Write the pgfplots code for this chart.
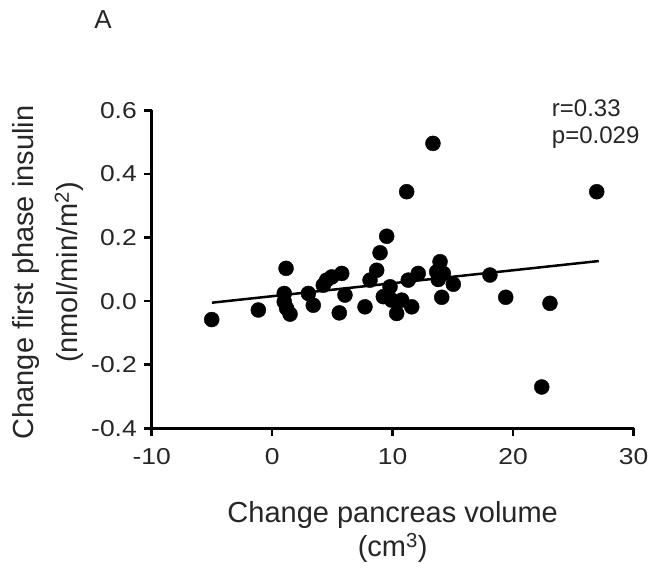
\documentclass[border=0pt]{standalone}
\usepackage{fontspec}
\setmainfont{Liberation Sans}
\newfontfamily\tickfont[FakeStretch=1.15]{Liberation Sans}
\usepackage{pgfplots}
\pgfplotsset{compat=1.18}

\begin{document}
\begin{tikzpicture}
\useasboundingbox (-151.7pt,-149.7pt) rectangle (498.3pt,428.3pt);
\begin{axis}[
    scale only axis,
    width=482pt,
    height=318pt,
    xmin=-10, xmax=30,
    ymin=-0.4, ymax=0.6,
    xtick={-10,0,10,20,30},
    ytick={-0.4,-0.2,0,0.2,0.4,0.6},
    axis x line*=bottom,
    axis y line*=left,
    axis line style={line width=3pt,-},
    tick align=outside,
    major tick length=8pt,
    tick style={line width=2.5pt,black},
    every tick label/.append style={font=\tickfont\fontsize{23}{26}\selectfont, text=black!85, inner sep=0pt},
    xticklabel style={anchor=north, yshift=-12pt},
    yticklabel style={anchor=east, xshift=-6.7pt,
        /pgf/number format/.cd,fixed,fixed zerofill,precision=1},
    /pgf/number format/assume math mode=true,
    clip=false,
]
\addplot[only marks, mark=*, mark size=7.5pt, black] coordinates {
    (-5.02,-0.058) (-1.15,-0.028) (1.15,0.103) (1.00,0.024) (1.00,-0.002)
    (1.20,-0.023) (1.48,-0.041) (3.00,0.024) (3.41,-0.013) (4.24,0.050)
    (4.52,0.066) (4.94,0.076) (5.77,0.087) (6.04,0.019) (5.57,-0.037)
    (7.70,-0.018) (8.67,0.097) (8.12,0.066) (8.95,0.152) (9.50,0.204)
    (9.78,0.045) (9.22,0.014) (9.92,0.003) (10.75,0.003) (10.33,-0.039)
    (11.58,-0.018) (11.29,0.066) (12.12,0.087) (11.16,0.344) (13.34,0.496)
    (13.93,0.124) (13.65,0.092) (14.20,0.087) (13.78,0.068) (15.03,0.053)
    (14.07,0.012) (18.07,0.082) (19.38,0.012) (23.05,-0.007) (22.37,-0.270)
    (26.93,0.344)
};
\addplot[black, line width=2.5pt] coordinates {(-5.0,-0.005) (27.1,0.126)};
% axis labels
\node[anchor=base, font=\fontsize{29}{32}\selectfont, text=black!85, inner sep=0pt]
    at ([yshift=-94pt]axis description cs:0.5,0) {Change pancreas volume};
\node[anchor=base, font=\fontsize{29}{32}\selectfont, text=black!85, inner sep=0pt]
    at ([yshift=-128pt]axis description cs:0.5,0) {(cm\textsuperscript{3})};
\node[rotate=90, anchor=base, font=\fontsize{29}{32}\selectfont, text=black!85, inner sep=0pt]
    at ([xshift=-117.7pt]axis description cs:0,0.49) {Change first phase insulin};
\node[rotate=90, anchor=base, font=\fontsize{29}{32}\selectfont, text=black!85, inner sep=0pt]
    at ([xshift=-73.7pt]axis description cs:0,0.49) {(nmol/min/m\textsuperscript{2})};
% annotations
\node[anchor=base west, font=\fontsize{24}{28}\selectfont, text=black!85, inner sep=0pt] at (axis cs:23.2,0.582) {r=0.33};
\node[anchor=base west, font=\fontsize{24}{28}\selectfont, text=black!85, inner sep=0pt] at (axis cs:23.2,0.496) {p=0.029};
\node[anchor=base, font=\fontsize{26}{30}\selectfont, text=black!85, inner sep=0pt] at (axis cs:-14.04,0.858) {A};
\end{axis}
\end{tikzpicture}
\end{document}
